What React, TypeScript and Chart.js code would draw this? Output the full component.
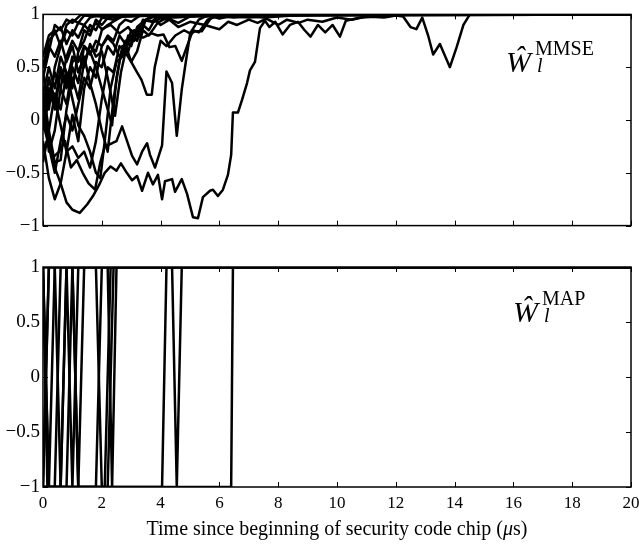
import React, { useEffect, useRef } from "react";
import { Chart, registerables } from "chart.js";

Chart.register(...registerables);

// ---------- data ----------
const xTicks = [0, 2, 4, 6, 8, 10, 12, 14, 16, 18, 20];
const yTicks = [-1, -0.5, 0, 0.5, 1];
const xLabel = "Time since beginning of security code chip (";
const topLabelSup = "MMSE";
const bottomLabelSup = "MAP";

type P = [number, number];

const mmse01: P[] = [[0,-0.3],[0.2,-0.15],[0.4,-0.45],[0.6,-0.6],[0.8,-0.78],[1.0,-0.85],[1.25,-0.88],[1.5,-0.8],[1.7,-0.72],[1.9,-0.62],[2.1,-0.5],[2.3,-0.44],[2.5,-0.48],[2.65,-0.41],[2.85,-0.5],[3.03,-0.57],[3.2,-0.53],[3.37,-0.67],[3.57,-0.5],[3.74,-0.61],[3.91,-0.52],[4.05,-0.75],[4.15,-0.58],[4.39,-0.56],[4.49,-0.68],[4.72,-0.56],[4.9,-0.7],[5.1,-0.92],[5.27,-0.93],[5.44,-0.73],[5.68,-0.67],[5.78,-0.66],[5.95,-0.72],[6.12,-0.66],[6.29,-0.52],[6.4,-0.33],[6.46,0.07],[6.63,0.07],[6.77,0.19],[6.94,0.35],[7.04,0.47],[7.21,0.55],[7.38,0.87],[7.55,0.94],[7.7,0.88],[7.9,0.93],[8.15,0.81],[8.4,0.9],[8.67,0.93],[8.9,0.85],[9.1,0.79],[9.35,0.9],[9.6,0.83],[9.85,0.9],[10.1,0.79],[10.3,0.94],[10.8,0.97],[11.5,0.98],[12.0,0.99],[12.5,1],[20,1]];
const mmse02: P[] = [[0,0.2],[0.15,-0.1],[0.35,-0.35],[0.55,-0.3],[0.75,-0.2],[0.95,-0.45],[1.15,-0.38],[1.35,-0.5],[1.55,-0.6],[1.77,-0.66],[1.95,-0.4],[2.1,-0.25],[2.35,-0.22],[2.5,-0.2],[2.69,-0.06],[2.86,-0.2],[3.03,-0.34],[3.2,-0.42],[3.37,-0.3],[3.54,-0.22],[3.64,-0.33],[3.81,-0.45],[4.05,-0.24],[4.2,0.46],[4.39,0.35],[4.55,-0.15],[4.72,0.29],[4.83,0.5],[5.0,0.81],[5.17,0.84],[5.4,0.84],[5.75,0.98],[6.0,0.96],[6.5,0.99],[7.5,0.97],[8.5,0.99],[9.5,1],[20,1]];
const mmse03: P[] = [[0,0.1],[0.2,0.4],[0.4,0.15],[0.6,0.5],[0.8,0.35],[1.0,0.6],[1.2,0.55],[1.4,0.7],[1.6,0.62],[1.8,0.75],[2.0,0.7],[2.2,0.78],[2.4,0.72],[2.6,0.6],[2.8,0.64],[3.0,0.55],[3.2,0.45],[3.35,0.38],[3.53,0.24],[3.7,0.24],[3.8,0.5],[4.0,0.75],[4.2,0.7],[4.5,0.8],[4.8,0.85],[5.0,0.82],[5.3,0.95],[5.6,0.99],[6.5,0.97],[7.5,0.99],[20,1]];
const mmse04: P[] = [[0,0.5],[0.2,0.75],[0.4,0.82],[0.6,0.88],[0.8,0.72],[1.0,0.85],[1.2,0.78],[1.4,0.9],[1.6,0.84],[1.8,0.92],[2.0,0.86],[2.3,0.9],[2.6,0.82],[2.9,0.88],[3.1,0.8],[3.4,0.78],[3.7,0.82],[3.9,0.8],[4.1,0.81],[4.3,0.69],[4.5,0.7],[4.72,0.56],[4.9,0.7],[5.1,0.85],[5.3,0.83],[5.6,0.95],[6.0,0.99],[7,0.97],[8,0.99],[20,1]];
const mmse05: P[] = [[0,-0.05],[0.2,0.3],[0.4,0.1],[0.6,0.45],[0.8,0.3],[1.0,0.55],[1.2,0.6],[1.4,0.5],[1.6,0.72],[1.8,0.6],[2.0,0.65],[2.2,0.4],[2.45,0.04],[2.65,0.45],[2.85,0.7],[3.0,0.8],[3.2,0.75],[3.4,0.9],[3.6,0.85],[3.8,0.95],[4.0,0.9],[4.3,0.95],[4.6,0.88],[5.0,0.93],[5.5,0.9],[6.0,0.86],[6.3,0.93],[6.6,0.9],[7.0,0.95],[7.3,0.92],[7.6,0.96],[8.0,0.9],[8.3,0.95],[8.7,0.92],[9.0,0.95],[9.5,0.93],[10.0,0.97],[10.5,0.95],[11.0,0.98],[11.6,0.97],[12.0,0.99],[12.25,0.98],[12.5,0.88],[12.7,0.86],[12.9,0.97],[13.1,0.8],[13.27,0.62],[13.5,0.72],[13.84,0.5],[14.07,0.69],[14.3,0.9],[14.52,1],[20,1]];
const mmse06: P[] = [[0,0.6],[0.2,0.8],[0.4,0.85],[0.6,0.7],[0.8,0.9],[1.0,0.95],[1.2,0.92],[1.4,0.99],[2.5,0.97],[3.5,1],[20,1]];
const mmse07: P[] = [[0,0.4],[0.2,0.65],[0.4,0.9],[0.6,0.85],[0.8,0.95],[1.0,0.92],[1.3,1],[3,0.98],[4.5,1],[20,1]];
const mmse08: P[] = [[0,-0.2],[0.2,-0.55],[0.4,-0.75],[0.6,-0.6],[0.8,-0.3],[1.0,0.05],[1.2,-0.2],[1.4,0.3],[1.6,0.5],[1.8,0.4],[2.0,0.7],[2.2,0.8],[2.4,0.75],[2.6,0.9],[2.8,0.95],[3.0,0.93],[3.3,0.99],[4.5,0.97],[6,1],[20,1]];
const mmse09: P[] = [[0,0.3],[0.2,-0.1],[0.4,-0.4],[0.6,-0.38],[0.8,0.1],[1.0,0.4],[1.2,0.2],[1.4,0.55],[1.6,0.7],[1.8,0.65],[2.0,0.85],[2.2,0.9],[2.5,0.95],[2.8,1],[5,0.98],[6.5,1],[20,1]];
const mmse10: P[] = [[0,0.1],[0.2,0.4],[0.4,0.2],[0.6,-0.05],[0.8,-0.3],[1.0,-0.25],[1.2,-0.36],[1.4,-0.3],[1.6,-0.45],[1.8,-0.2],[2.0,0.2],[2.2,0.5],[2.4,0.45],[2.6,0.7],[2.8,0.65],[3.0,0.85],[3.2,0.8],[3.4,0.95],[3.7,0.93],[4.0,1],[5.5,0.98],[7,1],[20,1]];
const mmse11: P[] = [[0,0.25],[0.2,0.5],[0.4,0.3],[0.6,0.6],[0.8,0.45],[1.0,0.2],[1.2,-0.05],[1.4,-0.15],[1.6,-0.3],[1.8,-0.5],[1.95,-0.55],[2.1,-0.2],[2.3,0.3],[2.5,0.55],[2.7,0.6],[2.9,0.8],[3.1,0.75],[3.3,0.9],[3.6,0.97],[4.0,1],[20,1]];
const mmse12: P[] = [[0,0.5],[0.2,0.7],[0.4,0.6],[0.6,0.75],[0.8,0.55],[1.0,0.7],[1.2,0.45],[1.4,0.6],[1.6,0.35],[1.8,0.15],[2.0,-0.1],[2.2,-0.3],[2.4,0.2],[2.6,0.55],[2.8,0.75],[3.0,0.7],[3.2,0.88],[3.5,0.95],[3.8,0.93],[4.2,1],[6,0.98],[8,1],[20,1]];
const mmse13: P[] = [[0,-0.1],[0.2,0.2],[0.4,0.45],[0.6,0.3],[0.8,0.6],[1.0,0.75],[1.2,0.65],[1.4,0.85],[1.6,0.8],[1.8,0.95],[2.0,0.9],[2.3,1],[20,1]];
const mmse14: P[] = [[0,0.2],[0.2,-0.3],[0.4,-0.1],[0.6,0.3],[0.8,0.15],[1.0,0.5],[1.2,0.35],[1.4,0.7],[1.6,0.65],[1.8,0.5],[2.0,0.3],[2.2,0.1],[2.35,-0.05],[2.5,0.4],[2.7,0.7],[2.9,0.65],[3.1,0.85],[3.3,0.8],[3.5,0.95],[3.8,0.98],[4.2,0.95],[4.6,1],[20,1]];
const mmse15: P[] = [[0,-0.4],[0.2,-0.1],[0.4,0.25],[0.6,0.1],[0.8,0.45],[1.0,0.3],[1.2,0.65],[1.4,0.75],[1.6,0.9],[1.8,0.85],[2.0,0.97],[2.4,0.95],[2.6,1],[20,1]];
const mmse16: P[] = [[0,-0.02],[0.2,-0.25],[0.4,-0.5],[0.6,-0.2],[0.8,0.05],[1.0,-0.1],[1.2,0.15],[1.4,0.4],[1.6,0.3],[1.8,0.55],[2.0,0.5],[2.2,0.7],[2.4,0.62],[2.6,0.8],[2.8,0.72],[3.0,0.55],[3.2,0.65],[3.4,0.85],[3.6,0.8],[3.9,0.92],[4.2,0.97],[4.6,0.92],[5.0,0.98],[5.5,1],[20,1]];
const mmse17: P[] = [[0,0.45],[0.2,0.1],[0.4,0.5],[0.6,0.7],[0.8,0.85],[1.0,0.8],[1.2,0.92],[1.4,0.9],[1.6,0.97],[2.0,1],[20,1]];

const map01: P[] = [[0,-1],[6.4,-1],[6.46,1],[20,1]];
const map02: P[] = [[0,1],[0.15,-1],[4.05,-1],[4.2,1],[4.39,1],[4.55,-1],[4.72,1],[20,1]];
const map03: P[] = [[0,1],[20,1]];
const map05: P[] = [[0,-1],[0.2,1],[20,1]];
const map08: P[] = [[0,-1],[0.8,-1],[1.0,1],[1.2,-1],[1.4,1],[20,1]];
const map09: P[] = [[0,1],[0.2,-1],[0.6,-1],[0.8,1],[20,1]];
const map10: P[] = [[0,1],[0.4,1],[0.6,-1],[1.8,-1],[2.0,1],[20,1]];
const map11: P[] = [[0,1],[1.0,1],[1.2,-1],[2.1,-1],[2.3,1],[20,1]];
const map12: P[] = [[0,1],[1.8,1],[2.0,-1],[2.2,-1],[2.4,1],[20,1]];
const map13: P[] = [[0,-1],[0.2,1],[20,1]];
const map14: P[] = [[0,1],[0.2,-1],[0.4,-1],[0.6,1],[2.2,1],[2.35,-1],[2.5,1],[20,1]];
const map15: P[] = [[0,-1],[0.2,-1],[0.4,1],[20,1]];
const map16: P[] = [[0,-1],[0.6,-1],[0.8,1],[1.0,-1],[1.2,1],[20,1]];

const mmseSeries = [mmse01, mmse02, mmse03, mmse04, mmse05, mmse06, mmse07, mmse08, mmse09, mmse10, mmse11, mmse12, mmse13, mmse14, mmse15, mmse16, mmse17];
const mapSeries = [map01, map02, map03, map05, map08, map09, map10, map11, map12, map13, map14, map15, map16];

// ---------- chart helpers ----------
const FONT = "'Liberation Serif', 'DejaVu Serif', serif";

const frameTicks = {
  id: "frameTicks",
  afterDraw(chart: any) {
    const { ctx, chartArea } = chart;
    const { left, right, top, bottom } = chartArea;
    const xs = chart.scales.x;
    const ys = chart.scales.y;
    const L = 5;
    ctx.save();
    ctx.strokeStyle = "#000";
    ctx.lineWidth = 1;
    ctx.beginPath();
    xTicks.forEach((v) => {
      const px = Math.round(xs.getPixelForValue(v)) + 0.5;
      ctx.moveTo(px, bottom);
      ctx.lineTo(px, bottom - L);
      ctx.moveTo(px, top);
      ctx.lineTo(px, top + L);
    });
    yTicks.forEach((v) => {
      const py = Math.round(ys.getPixelForValue(v)) + 0.5;
      ctx.moveTo(left, py);
      ctx.lineTo(left + L, py);
      ctx.moveTo(right, py);
      ctx.lineTo(right - L, py);
    });
    ctx.stroke();
    ctx.lineWidth = 1.5;
    ctx.strokeRect(left, top, right - left, bottom - top);
    ctx.restore();
  },
};

function fmt(v: number) {
  return v < 0 ? "\u2212" + Math.abs(v) : String(v);
}

function makeChart(canvas: HTMLCanvasElement, series: P[][], showX: boolean, padTop: number, xHeight: number) {
  return new Chart(canvas, {
    type: "line",
    data: {
      datasets: series.map((s) => ({
        data: s.map(([x, y]) => ({ x, y })),
        borderColor: "#000",
        borderWidth: 2.5,
        pointRadius: 0,
        fill: false,
        tension: 0,
        borderJoinStyle: "round",
      })),
    },
    options: {
      animation: false,
      responsive: false,
      devicePixelRatio: 1,
      layout: { padding: { top: padTop, right: 8, left: 0, bottom: 0 } },
      plugins: { legend: { display: false }, tooltip: { enabled: false } },
      scales: {
        x: {
          type: "linear",
          min: 0,
          max: 20,
          grid: { display: false, drawTicks: false },
          border: { display: false },
          ticks: {
            display: showX,
            stepSize: 2,
            padding: 6,
            color: "#000",
            font: { family: FONT, size: 17 },
            maxRotation: 0,
          },
          afterFit(scale: any) {
            scale.height = xHeight;
            scale.paddingLeft = 0;
            scale.paddingRight = 0;
          },
        },
        y: {
          type: "linear",
          min: -1,
          max: 1,
          grid: { display: false, drawTicks: false },
          border: { display: false },
          ticks: {
            stepSize: 0.5,
            padding: 3,
            color: "#000",
            font: { family: FONT, size: 19 },
            callback: (v: any) => fmt(Number(v)),
          },
          afterFit(scale: any) {
            scale.width = 43;
          },
        },
      },
    },
    plugins: [frameTicks],
  } as any);
}

function Label({ left, top, sup }: { left: number; top: number; sup: string }) {
  return (
    <div style={{ position: "absolute", left, top, fontFamily: FONT, color: "#000", lineHeight: 1 }}>
      <span style={{ position: "absolute", left: 0, top: 0, fontSize: 30, fontStyle: "italic" }}>Ŵ</span>
      <span style={{ position: "absolute", left: 29, top: -9, fontSize: 20 }}>{sup}</span>
      <span style={{ position: "absolute", left: 31, top: 8, fontSize: 20, fontStyle: "italic" }}>l</span>
    </div>
  );
}

export default function App() {
  const topRef = useRef<HTMLCanvasElement>(null);
  const botRef = useRef<HTMLCanvasElement>(null);

  useEffect(() => {
    const c1 = makeChart(topRef.current!, mmseSeries, false, 13, 11);
    const c2 = makeChart(botRef.current!, mapSeries, true, 27, 57);
    return () => {
      c1.destroy();
      c2.destroy();
    };
  }, []);

  return (
    <div style={{ position: "absolute", left: 0, top: 0, width: 639, height: 544, background: "#fff", overflow: "hidden" }}>
      <canvas ref={topRef} width={639} height={240} style={{ position: "absolute", left: 0, top: 0 }} />
      <canvas ref={botRef} width={639} height={304} style={{ position: "absolute", left: 0, top: 240 }} />
      <Label left={506} top={47} sup={topLabelSup} />
      <Label left={513} top={297} sup={bottomLabelSup} />
      <div
        style={{
          position: "absolute",
          left: 0,
          width: 674,
          top: 518,
          textAlign: "center",
          fontFamily: FONT,
          fontSize: 20,
          lineHeight: 1,
          color: "#000",
        }}
      >
        {xLabel}
        <i>μ</i>s)
      </div>
    </div>
  );
}
